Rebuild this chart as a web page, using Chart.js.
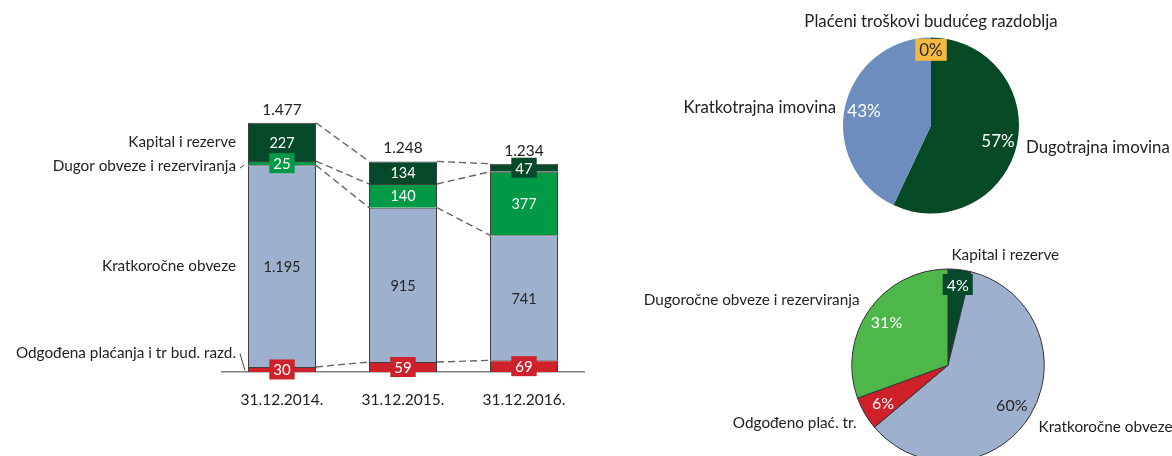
<!DOCTYPE html>
<html>
<head>
<meta charset="utf-8">
<script src="https://cdn.jsdelivr.net/npm/chart.js@4"></script>
<style>
  html, body { margin: 0; padding: 0; background: #fff; overflow: hidden; }
  body { width: 1172px; height: 456px; position: relative; }
  canvas { position: absolute; }
  #bars { left: 0; top: 0; }
  #assets { left: 600px; top: 0; }
  #sources { left: 600px; top: 230px; }
</style>
</head>
<body>
<canvas id="bars" width="600" height="456"></canvas>
<canvas id="assets" width="572" height="230"></canvas>
<canvas id="sources" width="572" height="250"></canvas>
<script>
// bar chart: liabilities by year (stacked bottom -> top)
const categories = ['31.12.2014.', '31.12.2015.', '31.12.2016.'];
const seriesLabels = ['Odgođena plaćanja i tr bud. razd.', 'Kratkoročne obveze', 'Dugor obveze i rezerviranja', 'Kapital i rezerve'];
const odgodjena = [30, 59, 69];
const kratkorocne = [1195, 915, 741];
const dugorocne = [25, 140, 377];
const kapital = [227, 134, 47];

// pie 1: assets structure (%)
const assetLabels = ['Dugotrajna imovina', 'Kratkotrajna imovina', 'Plaćeni troškovi budućeg razdoblja'];
const assetShares = [57, 43, 0];

// pie 2: sources structure (2016)
const sourceLabels = ['Kapital i rezerve', 'Kratkoročne obveze', 'Odgođeno plać. tr.', 'Dugoročne obveze i rezerviranja'];
const sourceValues = [47, 741, 69, 377];

const FONT = 'Lato, "Open Sans", sans-serif';
const TEXT = '#222222';

const barColors = ['#cf2129', '#9db0ce', '#009a46', '#06482a'];
const barTextColors = ['#fff', '#262626', '#fff', '#fff'];
// left-hand series names (offset from segment centre)
const seriesLabelStyle = [
  { dy: -16, leader: [[4, 0], [9, 17]] },
  { dy: 0 },
  { dy: 3, leader: [[4, 2], [8, -1]] },
  { dy: 0 },
];

function fmt(n) {
  return n.toLocaleString('de-DE');
}

function drawBox(ctx, x, y, text, bg, fg, size) {
  ctx.font = `${size}px ${FONT}`;
  const w = ctx.measureText(text).width + 8;
  const h = size + 5;
  ctx.fillStyle = bg;
  ctx.fillRect(x - w / 2, y - h / 2, w, h);
  ctx.fillStyle = fg;
  ctx.fillText(text, x, y + 1);
}

const barDecor = {
  id: 'barDecor',
  beforeDatasetsDraw(chart) {
    const ctx = chart.ctx;
    ctx.save();
    ctx.strokeStyle = '#666';
    ctx.lineWidth = 1.4;
    ctx.setLineDash([7, 4]);
    chart.data.datasets.forEach((ds, d) => {
      const els = chart.getDatasetMeta(d).data;
      for (let i = 0; i < els.length - 1; i++) {
        const a = els[i], b = els[i + 1];
        ctx.beginPath();
        ctx.moveTo(a.x + a.width / 2, a.y);
        ctx.lineTo(b.x - b.width / 2, b.y);
        ctx.stroke();
      }
    });
    ctx.restore();
  },
  afterDatasetsDraw(chart) {
    const ctx = chart.ctx;
    ctx.save();
    ctx.textAlign = 'center';
    ctx.textBaseline = 'middle';
    const n = chart.data.datasets.length;
    chart.data.datasets.forEach((ds, d) => {
      chart.getDatasetMeta(d).data.forEach((el, i) => {
        const cy = (el.y + el.base) / 2;
        const v = fmt(ds.data[i]);
        if (el.base - el.y < 15) {
          drawBox(ctx, el.x, cy, v, barColors[d], '#fff', 15);
        } else {
          ctx.font = `14.5px ${FONT}`;
          ctx.fillStyle = barTextColors[d];
          ctx.fillText(v, el.x, cy + 1);
        }
      });
    });
    // totals
    const topEls = chart.getDatasetMeta(n - 1).data;
    ctx.font = `15.5px ${FONT}`;
    ctx.fillStyle = TEXT;
    topEls.forEach((el, i) => {
      const total = chart.data.datasets.reduce((s, ds) => s + ds.data[i], 0);
      ctx.fillText(fmt(total), el.x, el.y - 13);
    });
    // series names beside first bar
    ctx.textAlign = 'right';
    ctx.font = `15.3px ${FONT}`;
    chart.data.datasets.forEach((ds, d) => {
      const el = chart.getDatasetMeta(d).data[0];
      const st = seriesLabelStyle[d];
      const x = el.x - el.width / 2 - 12;
      const y = (el.y + el.base) / 2 + st.dy;
      ctx.fillStyle = TEXT;
      ctx.fillText(ds.label, x, y);
      if (st.leader) {
        ctx.strokeStyle = '#404040';
        ctx.lineWidth = 1;
        ctx.beginPath();
        ctx.moveTo(x + st.leader[0][0], y + st.leader[0][1]);
        ctx.lineTo(x + st.leader[1][0], y + st.leader[1][1]);
        ctx.stroke();
      }
    });
    ctx.restore();
  },
};

new Chart(document.getElementById('bars'), {
  type: 'bar',
  data: {
    labels: categories,
    datasets: [
      { label: seriesLabels[0], data: odgodjena, backgroundColor: barColors[0] },
      { label: seriesLabels[1], data: kratkorocne, backgroundColor: barColors[1] },
      { label: seriesLabels[2], data: dugorocne, backgroundColor: barColors[2] },
      { label: seriesLabels[3], data: kapital, backgroundColor: barColors[3] },
    ],
  },
  options: {
    responsive: false,
    animation: false,
    layout: { padding: { left: 221.5, right: 15.5, top: 102, bottom: 24 } },
    datasets: {
      bar: { barPercentage: 0.562, categoryPercentage: 1, borderColor: '#404040', borderWidth: 1 },
    },
    plugins: { legend: { display: false }, tooltip: { enabled: false } },
    scales: {
      x: {
        stacked: true,
        grid: { display: false },
        border: { color: '#808080', width: 1.5 },
        ticks: { color: TEXT, font: { family: FONT, size: 15.5 }, padding: 11 },
        afterFit: (s) => { s.height = 60; },
      },
      y: { stacked: true, display: false, min: 0, max: 1600 },
    },
  },
  plugins: [barDecor],
});

// pie label plugin: percentages on slices + category names around
const pieLabels = {
  id: 'pieLabels',
  afterDatasetsDraw(chart, args, opts) {
    const ctx = chart.ctx;
    const meta = chart.getDatasetMeta(0);
    const data = chart.data.datasets[0].data;
    const total = data.reduce((s, v) => s + v, 0);
    ctx.save();
    ctx.textBaseline = 'middle';
    meta.data.forEach((arc, i) => {
      const st = opts.styles[i];
      const mid = (arc.startAngle + arc.endAngle) / 2;
      const r = arc.outerRadius * (st.rf || 0.78);
      const px = arc.x + Math.cos(mid) * r;
      const py = arc.y + Math.sin(mid) * r;
      const pct = Math.round((data[i] / total) * 100) + '%';
      ctx.textAlign = 'center';
      if (st.box) {
        drawBox(ctx, px, py, pct, st.box, st.pctColor, opts.pctSize);
      } else {
        ctx.font = `${opts.pctSize}px ${FONT}`;
        ctx.fillStyle = st.pctColor;
        ctx.fillText(pct, px, py + 1);
      }
      ctx.font = `${opts.nameSize}px ${FONT}`;
      ctx.fillStyle = TEXT;
      ctx.textAlign = st.align;
      ctx.fillText(chart.data.labels[i], arc.x + st.dx, arc.y + st.dy);
    });
    ctx.restore();
  },
};

new Chart(document.getElementById('assets'), {
  type: 'pie',
  data: {
    labels: assetLabels,
    datasets: [{
      data: assetShares,
      backgroundColor: ['#054a25', '#6c8dbe', '#f5b940'],
      borderWidth: 0,
    }],
  },
  options: {
    responsive: false,
    animation: false,
    layout: { padding: { left: 243, right: 153, top: 37.5, bottom: 16.5 } },
    plugins: {
      legend: { display: false },
      tooltip: { enabled: false },
      pieLabels: {
        pctSize: 17,
        nameSize: 16.8,
        styles: [
          { pctColor: '#fff', dx: 95, dy: 22.5, align: 'left' },
          { pctColor: '#fff', dx: -95, dy: -17.5, align: 'right' },
          { pctColor: '#262626', box: '#f5b940', rf: 0.86, dx: 0, dy: -103.5, align: 'center' },
        ],
      },
    },
  },
  plugins: [pieLabels],
});

new Chart(document.getElementById('sources'), {
  type: 'pie',
  data: {
    labels: sourceLabels,
    datasets: [{
      data: sourceValues,
      backgroundColor: ['#06482a', '#9db0ce', '#cf2129', '#4db749'],
      borderColor: '#333',
      borderWidth: 1,
    }],
  },
  options: {
    responsive: false,
    animation: false,
    layout: { padding: { left: 249.5, right: 125.5, top: 38.5, bottom: 18 } },
    plugins: {
      legend: { display: false },
      tooltip: { enabled: false },
      pieLabels: {
        pctSize: 16,
        nameSize: 15.3,
        styles: [
          { pctColor: '#fff', box: '#06482a', rf: 0.845, dx: 3.5, dy: -110.5, align: 'left' },
          { pctColor: '#262626', dx: 90.5, dy: 61.5, align: 'left' },
          { pctColor: '#fff', dx: -91.5, dy: 57.5, align: 'right' },
          { pctColor: '#fff', dx: -88.5, dy: -65.5, align: 'right' },
        ],
      },
    },
  },
  plugins: [pieLabels],
});
</script>
</body>
</html>
